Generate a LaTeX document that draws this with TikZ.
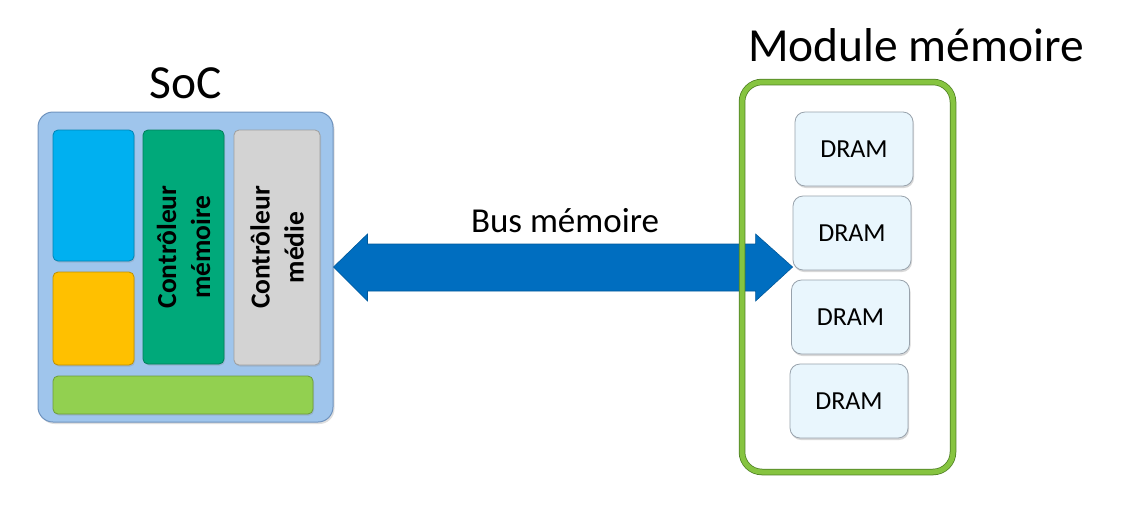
\documentclass[tikz,border=0pt]{standalone}
\usepackage{fontspec}
\setmainfont{Carlito}
\usetikzlibrary{shadows,calc}
\definecolor{socblue}{HTML}{9FC5EC}
\definecolor{socedge}{HTML}{6F93BE}
\definecolor{cyanblk}{HTML}{00B0F0}
\definecolor{yellowblk}{HTML}{FFC000}
\definecolor{ctrlgreen}{HTML}{00A97A}
\definecolor{ctrlgray}{HTML}{D3D3D3}
\definecolor{bargreen}{HTML}{92D050}
\definecolor{modgreen}{HTML}{86C440}
\definecolor{modedge}{HTML}{4E7F24}
\definecolor{dramfill}{HTML}{E9F6FD}
\definecolor{dramedge}{HTML}{98A2AC}
\definecolor{busblue}{HTML}{006EC0}
\begin{document}
\begin{tikzpicture}[x=1pt,y=-1pt,
  blk/.style={draw=#1!75!black, fill=#1, line width=0.8pt, rounded corners=5pt, inner sep=0pt,
     drop shadow={opacity=0.25, shadow xshift=1pt, shadow yshift=-1.5pt}},
  ctrltext/.style={rotate=90, align=center, font=\bfseries\fontsize{27.5}{34}\selectfont},
  dram/.style={draw=dramedge, fill=dramfill, line width=0.8pt, rounded corners=10pt,
     minimum width=118pt, minimum height=74pt, inner sep=0pt,
     font=\fontsize{26}{30}\selectfont,
     drop shadow={opacity=0.3, shadow xshift=1pt, shadow yshift=-2pt}},
  title/.style={font=\fontsize{47.5}{56}\selectfont, anchor=base},
  modframe/.style={minimum width=211pt, minimum height=390pt, inner sep=0pt, rounded corners=20pt}
]
\useasboundingbox (0,0) rectangle (1140,523);

% SoC
\node[draw=socedge, fill=socblue, line width=1pt, rounded corners=15pt,
      minimum width=295pt, minimum height=310pt, inner sep=0pt,
      drop shadow={opacity=0.25, shadow xshift=1.5pt, shadow yshift=-2pt}] (soc) at (185.5,267) {};
\node[blk=cyanblk, minimum width=81pt, minimum height=131pt] (cpu) at (93.5,195.5) {};
\node[blk=yellowblk, minimum width=81pt, minimum height=93pt] (gpu) at (93.5,318.5) {};
\node[blk=ctrlgreen, minimum width=81pt, minimum height=234pt] (mc) at (183.5,247) {};
\node[ctrltext] (mctext) at (mc.center) {Contrôleur\\mémoire};
\node[blk=ctrlgray, minimum width=86pt, minimum height=235pt] (media) at (277,247.5) {};
\node[ctrltext] (mediatext) at (media.center) {Contrôleur\\médie};
\node[blk=bargreen, minimum width=260pt, minimum height=38pt] (bar) at (183,395) {};
\node[title] (soctitle) at (186,98) {SoC};

% Module
\node[fill=white, modframe] (modbg) at (847.5,277) {};
\node[dram] (d1) at (854,149) {DRAM};
\node[dram] (d2) at (852,233) {DRAM};
\node[dram] (d3) at (850.5,317) {DRAM};
\node[dram] (d4) at (849,401) {DRAM};
\node[title] (modtitle) at (916,61) {Module mémoire};

% Bus
\coordinate (busL) at (soc.east);
\coordinate (busR) at (d2.west |- soc.east);
\fill[busblue, draw=busblue!80!black, line width=0.6pt]
  (busL) -- ($(busL)+(34,-33)$) -- ($(busL)+(34,-23)$) -- ($(busR)+(-37,-23)$)
  -- ($(busR)+(-37,-33)$) -- (busR) -- ($(busR)+(-37,34)$) -- ($(busR)+(-37,24)$)
  -- ($(busL)+(34,24)$) -- ($(busL)+(34,34)$) -- cycle;
\node[font=\fontsize{35}{40}\selectfont, anchor=base] (buslabel) at (565,232) {Bus mémoire};

% Module border drawn on top
\node[draw=modedge, line width=6.5pt, modframe] (modout) at (847.5,277) {};
\node[draw=modgreen, line width=5pt, modframe] (mod) at (847.5,277) {};
\end{tikzpicture}
\end{document}
